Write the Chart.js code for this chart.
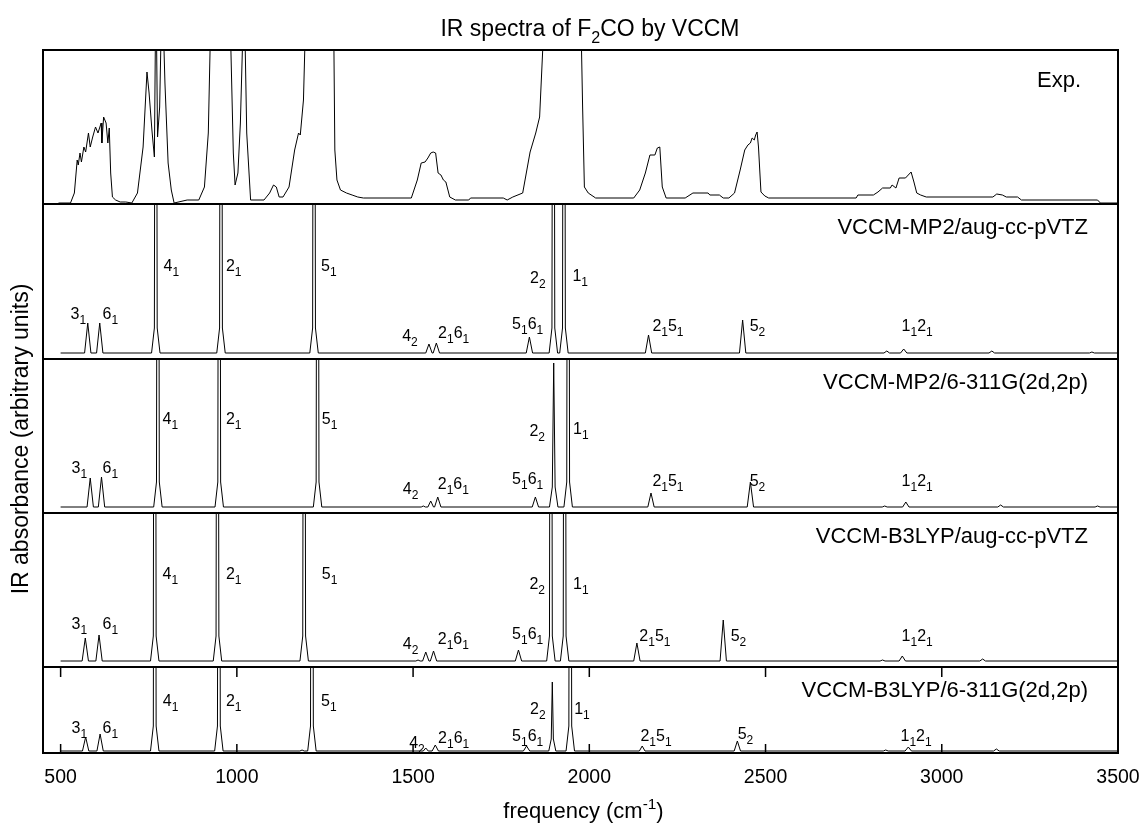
<!DOCTYPE html>
<html>
<head>
<meta charset="utf-8">
<title>IR spectra of F2CO by VCCM</title>
<script src="https://cdn.jsdelivr.net/npm/chart.js@4.4.1/dist/chart.umd.min.js"></script>
<style>
  html, body { margin: 0; padding: 0; background: #fff; }
  #wrap { width: 1145px; height: 823px; }
</style>
</head>
<body>
<div id="wrap"><canvas id="irChart"></canvas></div>
<script>
// frequency axis (cm-1)
const xMin = 450;
const xMax = 3500;
const xTicks = [500, 1000, 1500, 2000, 2500, 3000, 3500];

const panelNames = ['Exp.', 'VCCM-MP2/aug-cc-pVTZ', 'VCCM-MP2/6-311G(2d,2p)',
                    'VCCM-B3LYP/aug-cc-pVTZ', 'VCCM-B3LYP/6-311G(2d,2p)'];
// [min, max] of each panel, arbitrary units
const panelRanges = [[-1, 153], [-6, 149], [-6, 148], [-6, 148], [-2, 84]];

// [frequency, absorbance]
const expSpectrum = [
  [494,0],[528,0],[539,10],[547,43],[550,38],[555,50],[559,41],[566,56],[571,51],[579,70],
  [584,56],[591,66],[599,76],[606,70],[615,80],[617,60],[622,86],[629,80],[634,60],[638,75],
  [642,30],[647,6],[656,3],[669,1],[685,1],[702,0],[718,10],[734,56],[745,131],[751,110],
  [759,73],[766,46],[769,170],[772,170],[775,66],[781,96],[785,170],[792,170],[796,120],[805,40],
  [814,13],[822,0],[859,3],[892,3],[908,16],[919,70],[925,170],[982,170],[990,50],[995,18],
  [1003,30],[1010,80],[1017,170],[1023,170],[1028,70],[1039,3],[1077,3],[1093,10],[1104,18],[1112,16],
  [1120,6],[1131,6],[1148,16],[1164,53],[1175,70],[1180,68],[1189,103],[1194,170],[1275,170],[1278,53],
  [1284,23],[1294,13],[1311,10],[1327,8],[1343,6],[1359,5],[1495,5],[1512,23],[1523,40],[1534,41],
  [1542,45],[1550,50],[1557,51],[1564,50],[1571,30],[1579,28],[1586,23],[1593,21],[1604,6],[1620,3],
  [1658,3],[1663,5],[1756,5],[1767,3],[1783,6],[1811,10],[1832,51],[1848,70],[1859,86],[1870,170],
  [1977,170],[1981,96],[1986,16],[1997,10],[2018,5],[2126,5],[2143,13],[2159,30],[2172,48],[2186,48],
  [2193,55],[2200,56],[2207,16],[2218,5],[2272,5],[2294,10],[2337,10],[2342,8],[2369,8],[2380,5],
  [2396,5],[2412,10],[2428,33],[2441,53],[2450,58],[2457,60],[2462,65],[2468,63],[2472,68],[2476,71],
  [2480,56],[2484,30],[2487,11],[2498,7],[2509,5],[2757,5],[2762,8],[2806,8],[2819,11],[2832,15],
  [2854,15],[2859,18],[2870,15],[2879,25],[2897,25],[2913,31],[2921,21],[2929,10],[2940,8],[2956,6],
  [3145,6],[3156,9],[3172,8],[3183,6],[3215,6],[3226,3],[3442,3],[3450,0],[3500,0]
];

const mp2AugSpectrum = [
  [500,0],[568,0],[577,30],[586,0],[602,0],[611,30],[620,0],
  [758,0],[766,25],[770,900],[774,25],[782,0],
  [943,0],[951,25],[955,900],[959,25],[967,0],
  [1207,0],[1215,25],[1219,900],[1223,25],[1231,0],
  [1536,0],[1545,9],[1554,0],[1557,0],[1566,10],[1575,0],
  [1821,0],[1830,16],[1839,0],
  [1886,0],[1894,25],[1898,900],[1902,25],[1910,0],
  [1916,0],[1924,25],[1928,900],[1932,25],[1940,0],
  [2159,0],[2168,18],[2177,0],
  [2426,0],[2435,33],[2444,0],
  [2836,0],[2844,2],[2852,0],
  [2883,0],[2892,4],[2901,0],
  [3134,0],[3142,2],[3150,0],
  [3419,0],[3426,1],[3433,0],[3500,0]
];

const mp2PopleSpectrum = [
  [500,0],[575,0],[584,29],[593,0],[607,0],[616,30],[625,0],
  [764,0],[772,25],[776,900],[780,25],[788,0],
  [938,0],[946,25],[950,900],[954,25],[962,0],
  [1217,0],[1225,25],[1229,900],[1233,25],[1241,0],
  [1523,0],[1529,1],[1535,0],[1542,0],[1550,6],[1558,0],[1561,0],[1570,10],[1579,0],
  [1838,0],[1847,10],[1856,0],
  [1887,0],[1895,20],[1899,144],[1903,20],[1911,0],
  [1928,0],[1936,25],[1940,900],[1944,25],[1952,0],
  [2166,0],[2175,14],[2184,0],
  [2448,0],[2457,25],[2466,0],
  [2831,0],[2838,1],[2845,0],
  [2889,0],[2898,5],[2907,0],
  [3159,0],[3167,2],[3175,0],
  [3435,0],[3442,1],[3449,0],[3500,0]
];

const b3AugSpectrum = [
  [500,0],[561,0],[570,23],[579,0],[600,0],[609,26],[618,0],
  [755,0],[763,25],[767,900],[771,25],[779,0],
  [933,0],[941,25],[945,900],[949,25],[957,0],
  [1179,0],[1187,25],[1191,900],[1195,25],[1203,0],
  [1508,0],[1514,1],[1520,0],[1527,0],[1536,9],[1545,0],[1549,0],[1558,10],[1567,0],
  [1790,0],[1799,11],[1808,0],
  [1879,0],[1887,25],[1891,900],[1895,25],[1903,0],
  [1918,0],[1926,25],[1930,900],[1934,25],[1942,0],
  [2126,0],[2135,18],[2144,0],
  [2371,0],[2380,41],[2389,0],
  [2825,0],[2832,1],[2839,0],
  [2879,0],[2888,5],[2897,0],
  [3108,0],[3116,2],[3124,0],[3500,0]
];

const b3PopleSpectrum = [
  [500,0],[562,0],[571,14],[580,0],[603,0],[612,17],[621,0],
  [755,0],[763,25],[767,900],[771,25],[779,0],
  [937,0],[945,25],[949,900],[953,25],[961,0],
  [1179,0],[1185,1],[1191,0],
  [1201,0],[1209,25],[1213,900],[1217,25],[1225,0],
  [1529,0],[1536,3],[1543,0],[1554,0],[1563,6],[1572,0],
  [1813,0],[1822,5],[1831,0],
  [1885,0],[1892,12],[1895,69],[1898,12],[1905,0],
  [1934,0],[1942,25],[1946,900],[1950,25],[1958,0],
  [2142,0],[2150,5],[2158,0],
  [2411,0],[2420,10],[2429,0],
  [2834,0],[2841,1],[2848,0],
  [2896,0],[2905,4],[2914,0],
  [3147,0],[3155,2],[3163,0],[3500,0]
];

// band assignments: [text, frequency of left edge, height of digit centre]
const mp2AugLabels = [
  ['3_1', 528, 40], ['6_1', 619, 40], ['4_1', 792, 88], ['2_1', 969, 88], ['5_1', 1239, 88],
  ['2_2', 1832, 76], ['1_1', 1952, 78], ['4_2', 1469, 18], ['2_16_1', 1571, 21], ['5_16_1', 1781, 30],
  ['2_15_1', 2179, 28], ['5_2', 2455, 28], ['1_12_1', 2886, 28]
];
const mp2PopleLabels = [
  ['3_1', 531, 40], ['6_1', 619, 40], ['4_1', 789, 89], ['2_1', 969, 89], ['5_1', 1241, 89],
  ['2_2', 1830, 77], ['1_1', 1954, 79], ['4_2', 1471, 19], ['2_16_1', 1570, 24], ['5_16_1', 1781, 29],
  ['2_15_1', 2179, 27], ['5_2', 2455, 27], ['1_12_1', 2886, 27]
];
const b3AugLabels = [
  ['3_1', 531, 38], ['6_1', 619, 38], ['4_1', 789, 88], ['2_1', 969, 88], ['5_1', 1241, 88],
  ['2_2', 1830, 78], ['1_1', 1954, 78], ['4_2', 1471, 18], ['2_16_1', 1570, 23], ['5_16_1', 1781, 28],
  ['2_15_1', 2142, 26], ['5_2', 2401, 26], ['1_12_1', 2886, 26]
];
const b3PopleLabels = [
  ['3_1', 531, 24], ['6_1', 619, 24], ['4_1', 790, 51], ['2_1', 969, 51], ['5_1', 1239, 51],
  ['2_2', 1832, 43], ['1_1', 1957, 43], ['4_2', 1489, 9], ['2_16_1', 1571, 14], ['5_16_1', 1781, 16],
  ['2_15_1', 2145, 16], ['5_2', 2421, 18], ['1_12_1', 2883, 16]
];

const FONT = '"Liberation Sans", Arial, Helvetica, sans-serif';

const panels = [
  { id: 'yExp',      data: expSpectrum,      labels: [] },
  { id: 'yMp2Aug',   data: mp2AugSpectrum,   labels: mp2AugLabels },
  { id: 'yMp2Pople', data: mp2PopleSpectrum, labels: mp2PopleLabels },
  { id: 'yB3Aug',    data: b3AugSpectrum,    labels: b3AugLabels },
  { id: 'yB3Pople',  data: b3PopleSpectrum,  labels: b3PopleLabels }
];

/**
 * Split "F_2CO" / "cm^{-1}" into normal, sub (1) and super (-1) runs
 */
function richRuns(str) {
  const runs = [];
  let buf = '';
  let i = 0;
  while (i < str.length) {
    const c = str[i];
    if (c === '_' || c === '^') {
      if (buf) { runs.push({ t: buf, k: 0 }); buf = ''; }
      let grp;
      if (str[i + 1] === '{') {
        const end = str.indexOf('}', i);
        grp = str.slice(i + 2, end);
        i = end + 1;
      } else {
        grp = str[i + 1];
        i += 2;
      }
      runs.push({ t: grp, k: c === '_' ? 1 : -1 });
    } else {
      buf += c;
      i++;
    }
  }
  if (buf) runs.push({ t: buf, k: 0 });
  return runs;
}

function drawRich(ctx, str, x, y, size, align, smallRatio) {
  const runs = richRuns(str);
  const small = size * (smallRatio || 0.72);
  let w = 0;
  runs.forEach(r => {
    ctx.font = (r.k ? small : size) + 'px ' + FONT;
    r.w = ctx.measureText(r.t).width;
    w += r.w;
  });
  let cx = align === 'right' ? x - w : align === 'center' ? x - w / 2 : x;
  ctx.textAlign = 'left';
  ctx.textBaseline = 'alphabetic';
  runs.forEach(r => {
    ctx.font = (r.k ? small : size) + 'px ' + FONT;
    const dy = r.k === 1 ? size * 0.31 : r.k === -1 ? -size * 0.42 : 0;
    ctx.fillText(r.t, cx, y + dy);
    cx += r.w;
  });
}

// keep each spectrum inside its own panel
const panelClip = {
  id: 'panelClip',
  beforeDatasetDraw(chart, args) {
    const s = chart.scales[args.meta.yAxisID];
    const a = chart.chartArea;
    chart.ctx.save();
    chart.ctx.beginPath();
    chart.ctx.rect(a.left, s.top, a.right - a.left, s.bottom - s.top);
    chart.ctx.clip();
  },
  afterDatasetDraw(chart) {
    chart.ctx.restore();
  }
};

const decorations = {
  id: 'decorations',
  afterDraw(chart) {
    const ctx = chart.ctx;
    const a = chart.chartArea;
    const x = chart.scales.x;
    ctx.save();
    ctx.fillStyle = '#000';
    ctx.strokeStyle = '#000';

    panels.forEach((p, i) => {
      const s = chart.scales[p.id];
      // frame
      ctx.lineWidth = 2;
      ctx.strokeRect(a.left, s.top, a.right - a.left, s.bottom - s.top);
      // method name
      const inset = i === 0 ? 37 : 30;
      const drop = i === 0 ? 37 : 30;
      drawRich(ctx, panelNames[i], a.right - inset, s.top + drop, 22, 'right');
      // band assignments
      p.labels.forEach(([txt, f, h]) => {
        drawRich(ctx, txt, x.getPixelForValue(f), s.getPixelForValue(h) + 5.7, 16, 'left', 0.75);
      });
    });

    // inward ticks on the bottom panel only
    const sb = chart.scales[panels[panels.length - 1].id];
    ctx.lineWidth = 1.5;
    ctx.beginPath();
    xTicks.forEach(v => {
      const px = x.getPixelForValue(v);
      ctx.moveTo(px, sb.bottom);
      ctx.lineTo(px, sb.bottom - 9);
      ctx.moveTo(px, sb.top);
      ctx.lineTo(px, sb.top + 10);
    });
    ctx.stroke();

    // titles
    drawRich(ctx, 'IR spectra of F_2CO by VCCM', 590, 36, 23, 'center', 0.7);
    drawRich(ctx, 'frequency (cm^{-1})', (a.left + a.right) / 2 + 3, 818, 22, 'center', 0.7);
    ctx.translate(28, 439);
    ctx.rotate(-Math.PI / 2);
    drawRich(ctx, 'IR absorbance (arbitrary units)', 0, 0, 23, 'center');
    ctx.restore();
  }
};

const scales = {
  x: {
    type: 'linear',
    position: 'bottom',
    min: xMin,
    max: xMax,
    afterBuildTicks: axis => { axis.ticks = xTicks.map(v => ({ value: v })); },
    afterFit: axis => {
      axis.height = 70;
      axis.paddingLeft = 0;
      axis.paddingRight = 0;
    },
    grid: { display: false },
    border: { display: false },
    ticks: {
      color: '#000',
      padding: 5,
      autoSkip: false,
      maxRotation: 0,
      font: { family: FONT, size: 19.5 },
      callback: v => String(v)
    }
  }
};
panels.forEach((p, i) => {
  scales[p.id] = {
    type: 'linear',
    display: false,
    position: 'left',
    stack: 'panels',
    stackWeight: panelRanges[i][1] - panelRanges[i][0],
    weight: panels.length - i,
    min: panelRanges[i][0],
    max: panelRanges[i][1]
  };
});

new Chart(document.getElementById('irChart'), {
  type: 'line',
  data: {
    datasets: panels.map(p => ({
      data: p.data,
      yAxisID: p.id,
      xAxisID: 'x',
      borderColor: '#000',
      borderWidth: 1,
      pointRadius: 0,
      fill: false,
      tension: 0
    }))
  },
  options: {
    responsive: true,
    maintainAspectRatio: false,
    animation: false,
    events: [],
    layout: { padding: { left: 43, right: 27, top: 50, bottom: 0 } },
    plugins: {
      legend: { display: false },
      tooltip: { enabled: false },
      title: { display: false }
    },
    scales: scales
  },
  plugins: [panelClip, decorations]
});
</script>
</body>
</html>
